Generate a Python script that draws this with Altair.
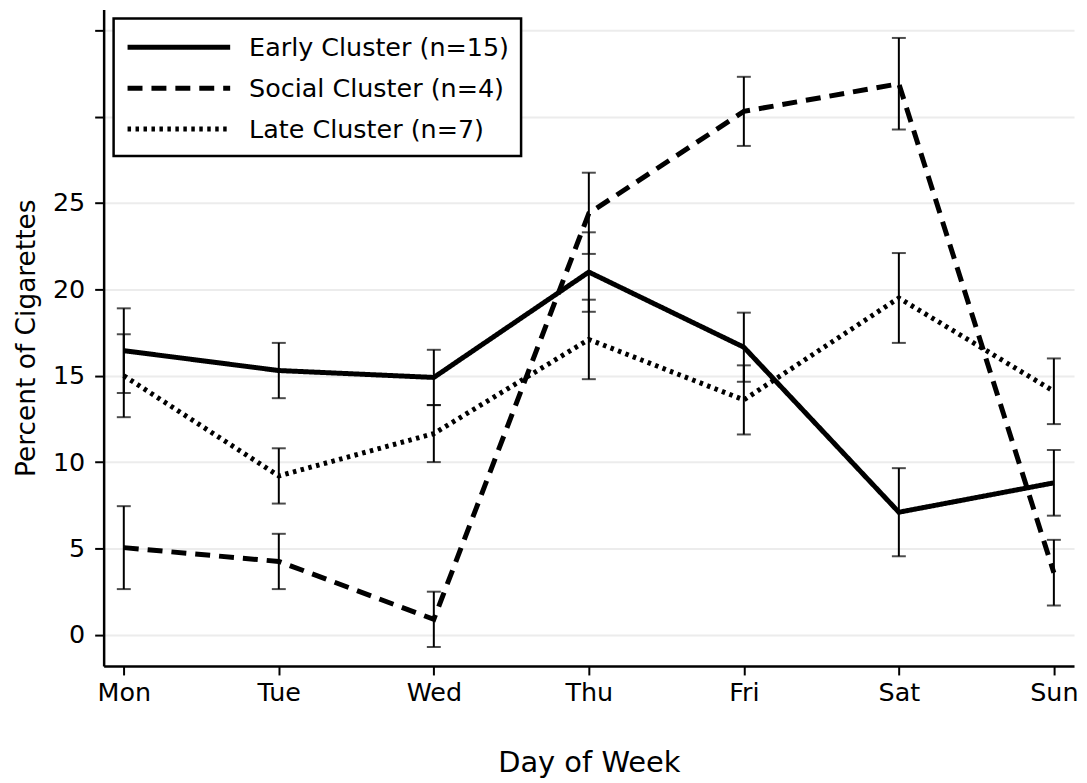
import altair as alt
import pandas as pd

days = ["Mon", "Tue", "Wed", "Thu", "Fri", "Sat", "Sun"]
series_names = ["Early Cluster (n=15)", "Social Cluster (n=4)", "Late Cluster (n=7)"]
series_dashes = [[1, 0], [15, 9], [3.5, 4.5]]

early = [16.45, 15.3, 14.9, 21.0, 16.65, 7.1, 8.8]
early_err = [2.45, 1.6, 1.6, 2.3, 2.0, 2.55, 1.9]
social = [5.05, 4.25, 0.9, 24.4, 30.3, 31.9, 3.6]
social_err = [2.4, 1.6, 1.6, 2.35, 2.0, 2.65, 1.9]
late = [15.0, 9.2, 11.65, 17.1, 13.6, 19.5, 14.1]
late_err = [2.4, 1.6, 1.65, 2.3, 2.0, 2.6, 1.9]

y_ticks = [0, 5, 10, 15, 20, 25, 30, 35]

rows = []
for name, vals, errs in zip(series_names, [early, social, late], [early_err, social_err, late_err]):
    for d, v, e in zip(days, vals, errs):
        rows.append({"day": d, "series": name, "pct": v, "lo": v - e, "hi": v + e})
df = pd.DataFrame(rows)

FONT = "DejaVu Sans"

x_enc = alt.X(
    "day:O",
    sort=days,
    scale=alt.Scale(type="point", padding=0.13),
    axis=alt.Axis(
        title="Day of Week",
        labelAngle=0,
        labelFontSize=25.5,
        titleFontSize=29,
        titleFontWeight="normal",
        titlePadding=42,
        labelPadding=6,
        tickSize=9,
        tickWidth=2,
        tickColor="black",
        domainColor="black",
        domainWidth=2.5,
        grid=False,
        labelColor="black",
        titleColor="black",
    ),
)

y_scale = alt.Scale(domain=[-1.8, 36.2], nice=False, zero=False)
y_axis = alt.Axis(
    title="Percent of Cigarettes",
    values=y_ticks,
    labelExpr="datum.value <= 25 ? datum.label : ''",
    labelFontSize=25.5,
    titleFontSize=26.5,
    titleFontWeight="normal",
    titlePadding=12,
    labelPadding=10,
    tickSize=9,
    tickWidth=2,
    tickColor="black",
    domainColor="black",
    domainWidth=2.5,
    grid=True,
    gridColor="#ececec",
    gridWidth=2,
    labelColor="black",
    titleColor="black",
)

base = alt.Chart(df)

lines = base.mark_line(color="black", strokeWidth=5).encode(
    x=x_enc,
    y=alt.Y("pct:Q", scale=y_scale, axis=y_axis),
    strokeDash=alt.StrokeDash(
        "series:N",
        sort=series_names,
        scale=alt.Scale(domain=series_names, range=series_dashes),
        legend=None,
    ),
)

bars = base.mark_rule(color="black", strokeWidth=2).encode(
    x=alt.X("day:O", sort=days),
    y=alt.Y("lo:Q", scale=y_scale),
    y2="hi:Q",
)

caps = base.transform_fold(["lo", "hi"], as_=["end", "bound"]).mark_tick(
    color="black", thickness=2, size=14
).encode(
    x=alt.X("day:O", sort=days),
    y=alt.Y("bound:Q", scale=y_scale),
)

# legend (drawn as a framed box inside the plot, top-left)
one = pd.DataFrame({"k": [0]})
legend_layers = [
    alt.Chart(one).mark_rect(fill="white", stroke="black", strokeWidth=2.5).encode(
        x=alt.value(10), x2=alt.value(419), y=alt.value(9), y2=alt.value(147)
    )
]
for i, (name, dash) in enumerate(zip(series_names, series_dashes)):
    yy = 38 + 41 * i
    legend_layers.append(
        alt.Chart(one).mark_rule(color="black", strokeWidth=5, strokeDash=dash).encode(
            x=alt.value(24), x2=alt.value(127), y=alt.value(yy)
        )
    )
    legend_layers.append(
        alt.Chart(one).mark_text(
            text=name, align="left", baseline="middle", fontSize=25.5, color="black", font=FONT
        ).encode(x=alt.value(146), y=alt.value(yy + 1))
    )

chart = alt.layer(lines, bars, caps, *legend_layers).properties(
    width=974,
    height=659,
    padding={"left": 5, "top": 0, "right": 0, "bottom": 0},
).configure(
    font=FONT,
).configure_view(
    stroke=None,
)

chart.save("out.html", embed_options={"renderer": "svg", "actions": False})
